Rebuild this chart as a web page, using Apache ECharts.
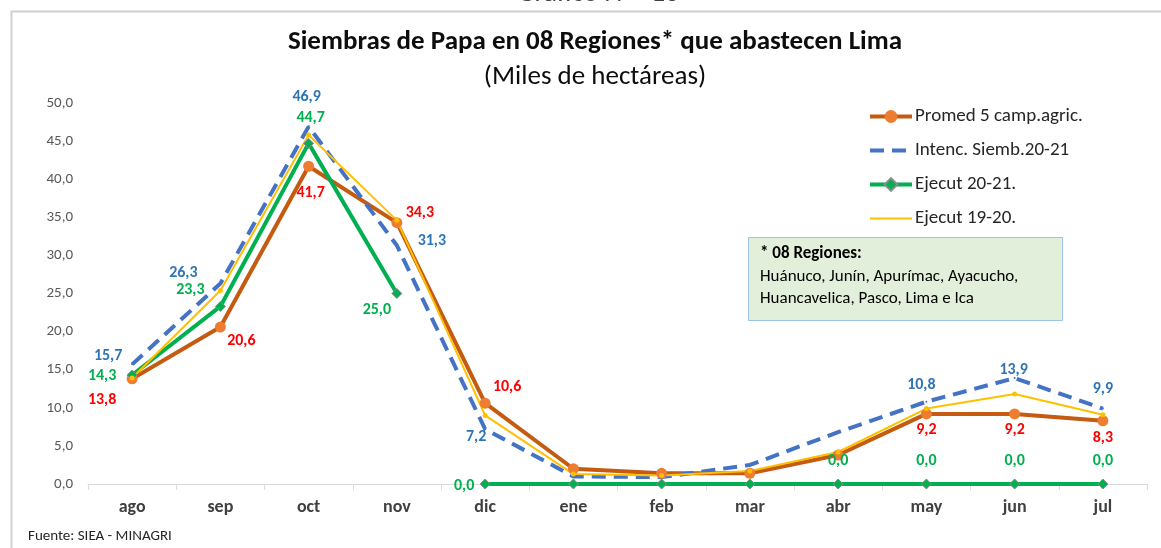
<!DOCTYPE html>
<html>
<head>
<meta charset="utf-8">
<script src="https://cdn.jsdelivr.net/npm/echarts@6/dist/echarts.min.js"></script>
<style>
  html, body { margin: 0; padding: 0; background: #fff; }
  #chart { width: 1161px; height: 548px; }
</style>
</head>
<body>
<div id="chart"></div>
<script>
  // datos (miles de hectáreas)
  const months = ['ago', 'sep', 'oct', 'nov', 'dic', 'ene', 'feb', 'mar', 'abr', 'may', 'jun', 'jul'];
  const promed5 = [13.8, 20.6, 41.7, 34.3, 10.6, 2.0, 1.4, 1.4, 3.8, 9.2, 9.2, 8.3];
  const intenc2021 = [15.7, 26.3, 46.9, 31.3, 7.2, 1.0, 0.9, 2.5, 6.8, 10.8, 13.9, 9.9];
  const ejecut2021 = [14.3, 23.3, 44.7, 25.0, 0, 0, 0, 0, 0, 0, 0, 0];
  const ejecut1920 = [13.9, 25.4, 45.8, 34.6, 9.0, 1.3, 1.1, 1.7, 4.2, 9.9, 11.8, 9.1];
  const yTicks = {min: 0, max: 50, interval: 5};

  const FONT = "Carlito, 'Liberation Sans Narrow', Roboto, sans-serif";

  /* desplazamiento de etiquetas: índice -> [dx, dy] */
  const labPromed = {0: [-30, 21], 1: [21, 14], 2: [2, 27], 3: [23, -10], 4: [22, -16], 9: [0, 16], 10: [0, 16], 11: [0, 17]};
  const labIntenc = {0: [-24, -8], 1: [-37, -11], 2: [-2, -30], 3: [35, -4], 4: [-9, 8], 9: [-5, -17], 10: [-1, -8], 11: [0, -20]};
  const labEjec = {0: [-30, 1], 1: [-30, -16], 2: [2, -25], 3: [-20, 16], 4: [-21, 2], 8: [0, -23], 9: [0, -23], 10: [0, -23], 11: [0, -23]};

  function fmt(v) {
    return v.toFixed(1).replace('.', ',');
  }

  /* método: construir datos con etiquetas */
  function mkData(values, labMap, color, from, to) {
    return values.map((v, i) => {
      if (i < from || i > to) return null;
      const off = labMap[i];
      return {
        value: v,
        label: off ? {
          show: true, position: 'inside', offset: off,
          color, fontSize: 16, fontWeight: 'bold', fontFamily: FONT,
          formatter: p => fmt(p.value)
        } : {show: false}
      };
    });
  }

  const chart = echarts.init(document.getElementById('chart'));
  const option = {
    animation: false,
    backgroundColor: '#fff',
    title: [
      {
        text: 'Siembras de Papa en 08 Regiones* que abastecen Lima', left: 590, top: 24, textAlign: 'center',
        textStyle: {fontSize: 27, fontWeight: 'bold', color: '#0d0d0d', fontFamily: FONT}
      },
      {
        text: '(Miles de hectáreas)', left: 590, top: 59, textAlign: 'center',
        textStyle: {fontSize: 27, fontWeight: 'normal', color: '#0d0d0d', fontFamily: FONT}
      }
    ],
    legend: {
      orient: 'vertical', left: 863, top: 102, itemWidth: 42, itemHeight: 16, itemGap: 15,
      data: [
        {name: 'Promed 5 camp.agric.', lineStyle: {width: 4}},
        {name: 'Intenc. Siemb.20-21', itemStyle: {opacity: 0}, lineStyle: {width: 4}},
        {name: 'Ejecut 20-21.', lineStyle: {width: 4}},
        {name: 'Ejecut 19-20.', itemStyle: {opacity: 0}, lineStyle: {width: 2}}
      ],
      textStyle: {fontSize: 19, color: '#262626', fontFamily: FONT, padding: [0, 0, 0, -2]}
    },
    grid: {left: 88, right: 14, top: 103, bottom: 64},
    xAxis: {
      type: 'category', data: months, boundaryGap: true,
      axisLine: {lineStyle: {color: '#d9d9d9', width: 1}},
      axisTick: {show: true, length: 6, lineStyle: {color: '#d9d9d9'}},
      axisLabel: {fontSize: 18, fontWeight: 'bold', color: '#404040', margin: 14, fontFamily: FONT}
    },
    yAxis: {
      type: 'value', min: yTicks.min, max: yTicks.max, interval: yTicks.interval,
      splitLine: {show: false}, axisLine: {show: false}, axisTick: {show: false},
      axisLabel: {fontSize: 15, color: '#595959', margin: 15, fontFamily: FONT, formatter: v => fmt(v)}
    },
    series: [
      {
        name: 'Promed 5 camp.agric.', type: 'line',
        data: mkData(promed5, labPromed, '#ff0000', 0, 11),
        symbol: 'circle', symbolSize: 11,
        lineStyle: {color: '#c55a11', width: 4},
        itemStyle: {color: '#ed7d31'}
      },
      {
        name: 'Intenc. Siemb.20-21', type: 'line',
        data: mkData(intenc2021, labIntenc, '#2e75b6', 0, 11),
        symbol: 'circle', symbolSize: 2,
        lineStyle: {color: '#4472c4', width: 4, type: [14, 8]},
        itemStyle: {color: '#4472c4'}
      },
      {
        name: 'Ejecut 20-21.', type: 'line',
        data: mkData(ejecut2021, labEjec, '#00b050', 0, 3),
        symbol: 'diamond', symbolSize: 10,
        lineStyle: {color: '#00b050', width: 4},
        itemStyle: {color: '#00b050', borderColor: '#8c8c8c', borderWidth: 1}
      },
      {
        name: 'Ejecut 20-21.', type: 'line',
        data: mkData(ejecut2021, labEjec, '#00b050', 4, 11),
        symbol: 'diamond', symbolSize: 10,
        lineStyle: {color: '#00b050', width: 4},
        itemStyle: {color: '#00b050', borderColor: '#8c8c8c', borderWidth: 1}
      },
      {
        name: 'Ejecut 19-20.', type: 'line',
        data: ejecut1920,
        symbol: 'circle', symbolSize: 5,
        lineStyle: {color: '#ffc000', width: 2},
        itemStyle: {color: '#ffc000'}
      }
    ],
    graphic: [
      {
        type: 'text', x: 598, y: -20, silent: true,
        style: {text: 'Gráfico N°   10', textAlign: 'center', fontSize: 28, fill: '#404040', fontFamily: FONT}
      },
      {
        type: 'rect', left: 9, top: 9, z: -10, silent: true,
        shape: {width: 1200, height: 600},
        style: {fill: 'none', stroke: '#d0d0d0', lineWidth: 2}
      },
      {
        type: 'rect', left: 748, top: 237, z: 10,
        shape: {width: 314, height: 83},
        style: {fill: '#e2efda', stroke: '#9dc3e6', lineWidth: 1}
      },
      {
        type: 'text', left: 760, top: 245, z: 11,
        style: {text: '* 08 Regiones:', fontSize: 17, fontWeight: 'bold', fill: '#000', fontFamily: FONT}
      },
      {
        type: 'text', left: 760, top: 268, z: 11,
        style: {text: 'Huánuco, Junín, Apurímac, Ayacucho,', fontSize: 17, fill: '#000', fontFamily: FONT}
      },
      {
        type: 'text', left: 760, top: 290, z: 11,
        style: {text: 'Huancavelica, Pasco, Lima e Ica', fontSize: 17, fill: '#000', fontFamily: FONT}
      },
      {
        type: 'text', left: 28, top: 529,
        style: {text: 'Fuente: SIEA - MINAGRI', fontSize: 15, fill: '#262626', fontFamily: FONT}
      }
    ]
  };
  chart.setOption(option);
</script>
</body>
</html>
